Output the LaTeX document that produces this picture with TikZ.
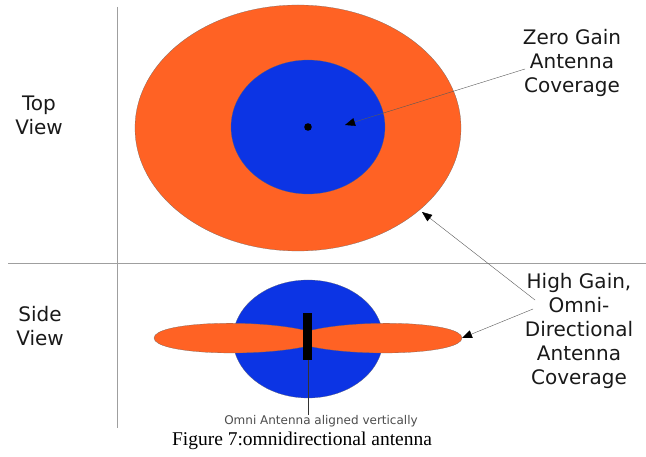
\documentclass[tikz,border=0pt]{standalone}
\usepackage{fontspec}
\setmainfont{DejaVu Sans}
\newfontfamily\capfont{Liberation Serif}
\usepackage{tikz}
\usetikzlibrary{positioning,arrows.meta}
\definecolor{omniorange}{RGB}{255,98,36}
\definecolor{omniblue}{RGB}{12,52,228}
\tikzset{
  lobe/.style={fill=omniorange,draw=black!60,very thin},
  beam/.style={fill=omniblue,draw=black!60,very thin},
  lbl/.style={align=center,font=\fontsize{20}{24}\selectfont,text=black!90},
  pointer/.style={-{Triangle[length=10pt,width=8pt,color=black]},black!65,thin},
  divider/.style={gray!75,thick},
}

\begin{document}
\begin{tikzpicture}[x=1pt,y=-1pt]
  \useasboundingbox (0,0) rectangle (646,457);
  % panel dividers
  \draw[divider] (117,7) -- (117,428);
  \draw[divider] (8,263) -- (646,263);

  % top view
  \draw[lobe] (298,128) ellipse [x radius=163, y radius=123];
  \draw[beam] (308,127) ellipse [x radius=77, y radius=67];
  \fill (308,127) circle [radius=3.8];

  % side view
  \draw[beam] (308,339) ellipse [x radius=75, y radius=59];
  \draw[lobe] (308,331) .. controls (255,318) and (154,322) .. (154,338)
              .. controls (154,354) and (255,358) .. (308,346) -- cycle;
  \draw[lobe] (308,331) .. controls (361,318) and (462,322) .. (462,338)
              .. controls (462,354) and (361,358) .. (308,346) -- cycle;
  \fill (303,313) rectangle (312,360);
  \draw[black!80] (308,360) -- (308,415);

  % labels
  \node[lbl] (toplbl) at (39,115) {Top\\View};
  \node[lbl] (sidelbl) at (40,326) {Side\\View};
  \node[lbl] (zerolbl) at (572,63) {Zero Gain\\Antenna\\Coverage};
  \node[lbl] (highlbl) at (579,331) {High Gain,\\Omni-\\Directional\\Antenna\\Coverage};
  \node[font=\fontsize{12}{14}\selectfont,text=black!70] (omninote) at (321,421)
    {Omni Antenna aligned vertically};
  \node[font=\capfont\fontsize{19.5}{22}\selectfont] (caption) at (302,441)
    {Figure 7:omnidirectional antenna};

  % pointers
  \coordinate (zerofrom) at (525,69);
  \coordinate (zerotip) at (345,125);
  \coordinate (highfrom) at (535,300);
  \coordinate (hightop) at (422,212);
  \coordinate (highfrom2) at (533,309);
  \coordinate (highside) at (462,338);
  \draw[pointer] (zerofrom) -- (zerotip);
  \draw[pointer] (highfrom) -- (hightop);
  \draw[pointer] (highfrom2) -- (highside);
\end{tikzpicture}
\end{document}
